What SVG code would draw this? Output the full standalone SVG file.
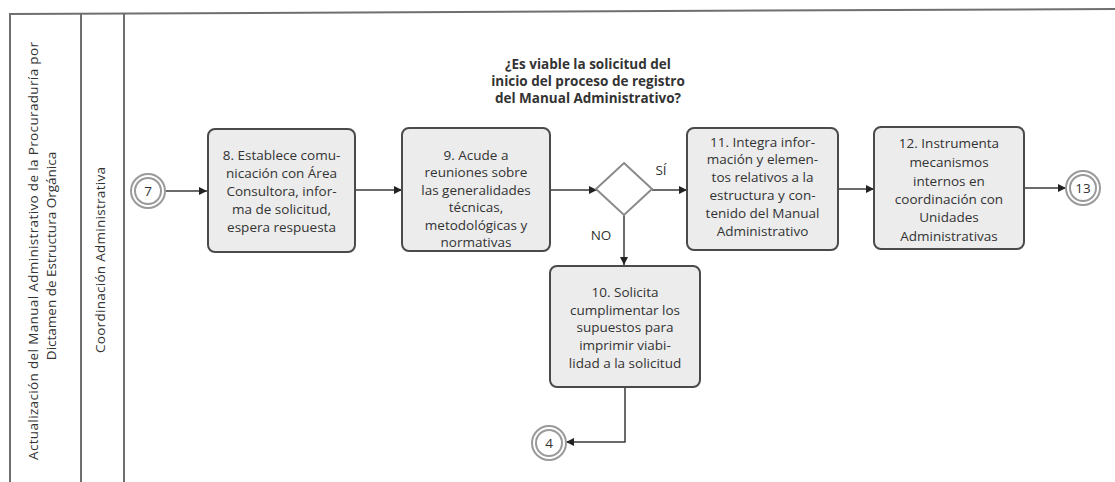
<svg xmlns="http://www.w3.org/2000/svg" width="1115" height="482" viewBox="0 0 1115 482">
  <style>
    .lane { fill: none; stroke: #6f6f6f; stroke-width: 2; }
    .task { fill: #ececec; stroke: #4a4a4a; stroke-width: 2; }
    .gate { fill: #ffffff; stroke: #8a8a8a; stroke-width: 2; }
    .ring { fill: #ffffff; stroke: #9a9a9a; stroke-width: 2; }
    .edge { fill: none; stroke: #3a3a3a; stroke-width: 1.5; }
    .t { font-family: "Open Sans", "Liberation Sans", sans-serif; font-size: 13.5px; fill: #333333; text-anchor: middle; }
    .q { font-family: "Open Sans", "Liberation Sans", sans-serif; font-size: 13.5px; font-weight: bold; fill: #333333; text-anchor: middle; }
    .lbl { font-family: "Open Sans", "Liberation Sans", sans-serif; font-size: 13.5px; fill: #333333; text-anchor: middle; }
    .lt { font-family: "Open Sans", "Liberation Sans", sans-serif; font-size: 13.5px; fill: #333333; text-anchor: middle; }
  </style>
  <defs>
    <marker id="arrow" viewBox="0 0 10 10" refX="10" refY="5" markerWidth="8" markerHeight="8" markerUnits="userSpaceOnUse" orient="auto">
      <path d="M0,0 L10,5 L0,10 z" fill="#222222"/>
    </marker>
  </defs>
  <rect width="1115" height="482" fill="#ffffff"/>

  <!-- pool and lanes -->
  <g id="pool">
    <line class="lane" x1="10" y1="14" x2="1115" y2="9"/>
    <line class="lane" x1="10" y1="13" x2="10" y2="482"/>
    <line class="lane" x1="81" y1="13" x2="81" y2="482"/>
    <line class="lane" x1="124" y1="13" x2="124" y2="482"/>
    <text class="lt" transform="translate(38,251) rotate(-90)" textLength="418" lengthAdjust="spacing">Actualización del Manual Administrativo de la Procuraduría por</text>
    <text class="lt" transform="translate(56,256) rotate(-90)">Dictamen de Estructura Orgánica</text>
    <text class="lt" transform="translate(105,260) rotate(-90)" textLength="186" lengthAdjust="spacing">Coordinación Administrativa</text>
  </g>

  <!-- connectors -->
  <g id="connectors">
    <line class="edge" x1="166" y1="191" x2="207" y2="191" marker-end="url(#arrow)"/>
    <line class="edge" x1="356" y1="190" x2="402" y2="190" marker-end="url(#arrow)"/>
    <line class="edge" x1="551" y1="190" x2="597" y2="190" marker-end="url(#arrow)"/>
    <line class="edge" x1="652" y1="190" x2="687" y2="190" marker-end="url(#arrow)"/>
    <line class="edge" x1="839" y1="189" x2="874" y2="189" marker-end="url(#arrow)"/>
    <line class="edge" x1="1025" y1="188" x2="1066" y2="188" marker-end="url(#arrow)"/>
    <line class="edge" x1="624" y1="215" x2="624" y2="265" marker-end="url(#arrow)"/>
    <polyline class="edge" points="625,387 625,442 566,442" marker-end="url(#arrow)"/>
    <text class="lbl" x="661" y="175">SÍ</text>
    <text class="lbl" x="601" y="240">NO</text>
  </g>

  <g id="event-7">
    <circle class="ring" cx="148" cy="191" r="17"/>
    <circle class="ring" cx="148" cy="191" r="13"/>
    <text class="t" x="148" y="196">7</text>
  </g>

  <g id="task-8">
    <rect class="task" x="208" y="129" width="147" height="123" rx="7"/>
    <text class="t" x="281.5" y="160">8. Establece comu-</text>
    <text class="t" x="281.5" y="178">nicación con Área</text>
    <text class="t" x="281.5" y="196">Consultora, infor-</text>
    <text class="t" x="281.5" y="214">ma de solicitud,</text>
    <text class="t" x="281.5" y="232">espera respuesta</text>
  </g>

  <g id="task-9">
    <rect class="task" x="402" y="128" width="148" height="123" rx="7"/>
    <text class="t" x="476" y="160">9. Acude a</text>
    <text class="t" x="476" y="177">reuniones sobre</text>
    <text class="t" x="476" y="195">las generalidades</text>
    <text class="t" x="476" y="212">técnicas,</text>
    <text class="t" x="476" y="230">metodológicas y</text>
    <text class="t" x="476" y="247">normativas</text>
  </g>

  <g id="gateway">
    <text class="q" x="588" y="69">¿Es viable la solicitud del</text>
    <text class="q" x="588" y="86">inicio del proceso de registro</text>
    <text class="q" x="588" y="103">del Manual Administrativo?</text>
    <polygon class="gate" points="624,163 652,189 624,215 596,189"/>
  </g>

  <g id="task-10">
    <rect class="task" x="550" y="266" width="150" height="121" rx="7"/>
    <text class="t" x="625" y="297">10. Solicita</text>
    <text class="t" x="625" y="315">cumplimentar los</text>
    <text class="t" x="625" y="332">supuestos para</text>
    <text class="t" x="625" y="350">imprimir viabi-</text>
    <text class="t" x="625" y="368">lidad a la solicitud</text>
  </g>

  <g id="task-11">
    <rect class="task" x="687" y="128" width="151" height="122" rx="7"/>
    <text class="t" x="762.5" y="147">11. Integra infor-</text>
    <text class="t" x="762.5" y="164">mación y elemen-</text>
    <text class="t" x="762.5" y="182">tos relativos a la</text>
    <text class="t" x="762.5" y="200">estructura y con-</text>
    <text class="t" x="762.5" y="218">tenido del Manual</text>
    <text class="t" x="762.5" y="236">Administrativo</text>
  </g>

  <g id="task-12">
    <rect class="task" x="874" y="127" width="150" height="122" rx="7"/>
    <text class="t" x="949" y="148">12. Instrumenta</text>
    <text class="t" x="949" y="167">mecanismos</text>
    <text class="t" x="949" y="186">internos en</text>
    <text class="t" x="949" y="204">coordinación con</text>
    <text class="t" x="949" y="222">Unidades</text>
    <text class="t" x="949" y="241">Administrativas</text>
  </g>

  <g id="event-13">
    <circle class="ring" cx="1083" cy="188" r="17"/>
    <circle class="ring" cx="1083" cy="188" r="13"/>
    <text class="t" x="1083" y="193">13</text>
  </g>

  <g id="event-4">
    <circle class="ring" cx="549" cy="443" r="17"/>
    <circle class="ring" cx="549" cy="443" r="13"/>
    <text class="t" x="549" y="448">4</text>
  </g>
</svg>
